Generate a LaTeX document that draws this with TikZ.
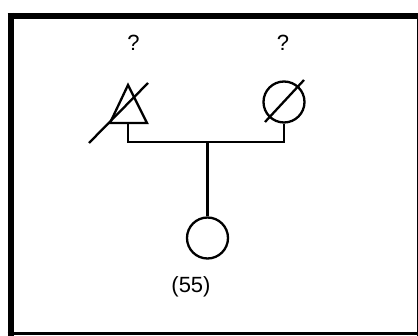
\documentclass[tikz,border=0pt]{standalone}
\usepackage{fontspec}
\setmainfont{Liberation Sans}
\begin{document}
\begin{tikzpicture}[x=1pt,y=-1pt,
  sym/.style={draw,line width=2.3pt,fill=none},
  person/.style={circle,draw,line width=2.3pt,minimum size=41pt,inner sep=0pt},
  lbl/.style={font=\fontsize{22}{26}\selectfont,inner sep=0pt},
  link/.style={line width=2.3pt}]
\useasboundingbox (0,0) rectangle (418,336);
% frame
\draw[line width=6pt] (10.5,13) -- (10.5,336);
\draw[line width=6pt] (7.5,16.5) -- (418,16.5);
\draw[line width=3pt] (7.5,333.5) -- (418,333.5);
\draw[line width=1.2pt] (417.4,13.5) -- (417.4,336);
% father (deceased, triangle)
\coordinate (fa) at (128,85);
\coordinate (fl) at (110,123);
\coordinate (fr) at (147,123);
\coordinate (fb) at (128,123);
\draw[sym,line join=miter] (fa) -- (fr) -- (fl) -- cycle;
\coordinate (fs1) at (89,143);
\coordinate (fs2) at (148,83);
\draw[link] (fs1) -- (fs2);
% mother (deceased, circle)
\node[person] (mo) at (284,102) {};
\coordinate (ms1) at (265,122);
\coordinate (ms2) at (304,80);
\draw[link] (ms1) -- (ms2);
% child
\node[person] (ch) at (207.5,238) {};
% connectors
\coordinate (fj) at (128,142);
\coordinate (mj) at (284,142);
\coordinate (cj) at (207.5,142);
\draw[link] (fb) -- (fj) -- (mj) -- (mo.south);
\draw[link] (cj) -- (ch.north);
% labels
\node[lbl] (q1) at (133.5,43) {?};
\node[lbl] (q2) at (283,43) {?};
\node[lbl] (age) at (191,287) {(55)};
\end{tikzpicture}
\end{document}
